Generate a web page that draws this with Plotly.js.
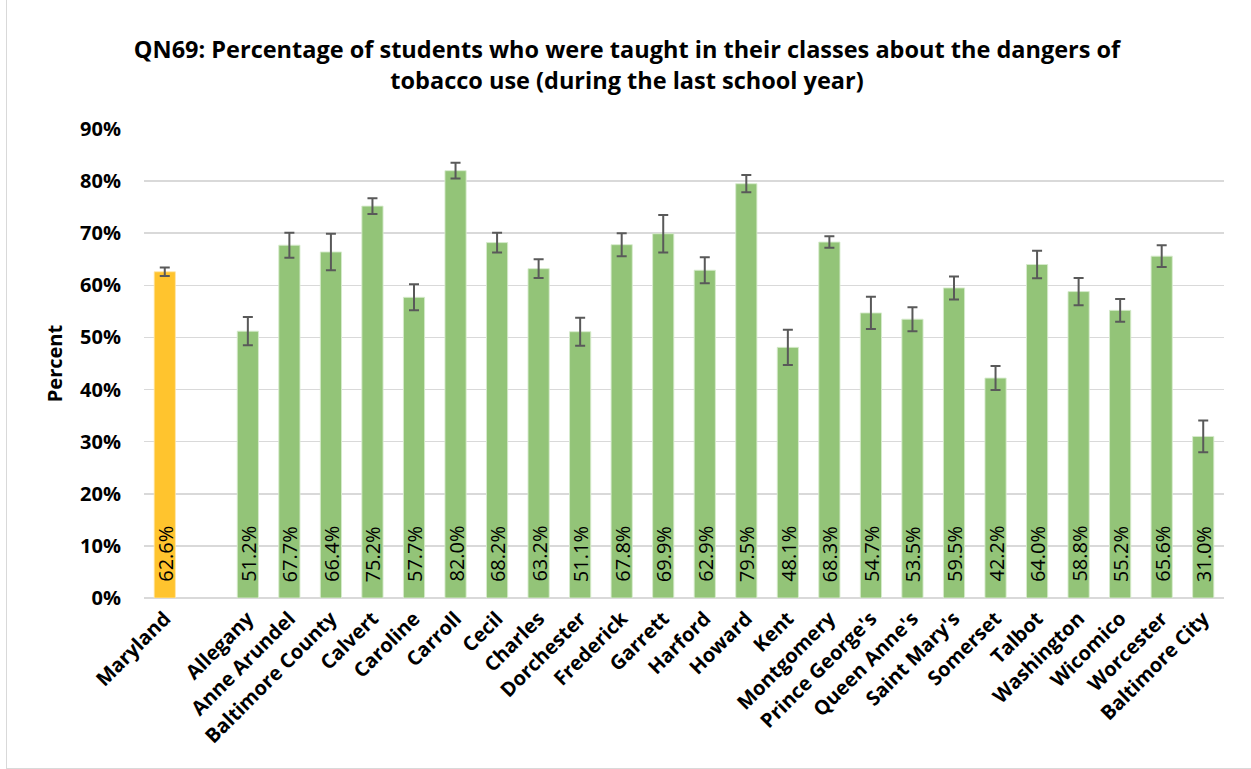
<!DOCTYPE html>
<html>
<head>
<meta charset="utf-8">
<script src="https://cdn.plot.ly/plotly-3.0.1.min.js"></script>
<style>
  html, body { margin: 0; padding: 0; background: #fff; overflow: hidden; }
  #frame { position: absolute; left: 6px; top: -5px; width: 1300px; height: 774px; border: 1px solid #d9d9d9; box-sizing: border-box; }
  #chart { position: absolute; left: 0; top: 0; width: 1251px; height: 769px; }
</style>
</head>
<body>
<div id="frame"></div>
<div id="chart"></div>
<script>
// ---- data ----
const stateName = ["Maryland"];
const stateValue = [62.6];
const stateError = [0.8];

const counties = ["Allegany", "Anne Arundel", "Baltimore County", "Calvert", "Caroline", "Carroll",
  "Cecil", "Charles", "Dorchester", "Frederick", "Garrett", "Harford", "Howard", "Kent",
  "Montgomery", "Prince George's", "Queen Anne's", "Saint Mary's", "Somerset", "Talbot",
  "Washington", "Wicomico", "Worcester", "Baltimore City"];
const countyValues = [51.2, 67.7, 66.4, 75.2, 57.7, 82.0, 68.2, 63.2, 51.1, 67.8, 69.9, 62.9,
  79.5, 48.1, 68.3, 54.7, 53.5, 59.5, 42.2, 64.0, 58.8, 55.2, 65.6, 31.0];
const countyErrors = [2.7, 2.4, 3.5, 1.5, 2.5, 1.5, 1.9, 1.8, 2.7, 2.2, 3.6, 2.5,
  1.65, 3.4, 1.1, 3.1, 2.3, 2.2, 2.3, 2.65, 2.6, 2.2, 2.1, 3.05];

const spacer = " ";
const categoryOrder = stateName.concat([spacer], counties);
const yTickValues = [0, 10, 20, 30, 40, 50, 60, 70, 80, 90];

const titleText = "QN69: Percentage of students who were taught in their classes about the dangers of<br>tobacco use (during the last school year)";

// ---- chart ----
const FONT = "Open Sans, Liberation Sans, sans-serif";
const fmt = v => v.toFixed(1) + "%";
const errStyle = { type: "data", visible: true, color: "#595959", thickness: 2, width: 5 };

const stateTrace = {
  type: "bar",
  x: stateName,
  y: stateValue,
  marker: { color: "rgb(255,196,46)", line: { color: "rgba(255,230,170,0.8)", width: 1 } },
  error_y: Object.assign({ array: stateError }, errStyle),
  hoverinfo: "x+y"
};

const countyTrace = {
  type: "bar",
  x: counties,
  y: countyValues,
  marker: { color: "rgb(147,196,120)", line: { color: "rgba(215,235,205,0.9)", width: 1 } },
  error_y: Object.assign({ array: countyErrors }, errStyle),
  hoverinfo: "x+y"
};

// value labels inside bars, anchored at the bar base
const allNames = stateName.concat(counties);
const allValues = stateValue.concat(countyValues);
const labelAnnotations = allNames.map((name, i) => ({
  xref: "x", yref: "y",
  x: name, y: 0,
  text: fmt(allValues[i]),
  textangle: -90,
  showarrow: false,
  xanchor: "center",
  yanchor: "bottom",
  yshift: 14,
  font: { family: FONT, size: 20, color: "#000" }
}));

const layout = {
  width: 1251,
  height: 769,
  paper_bgcolor: "rgba(0,0,0,0)",
  plot_bgcolor: "rgba(0,0,0,0)",
  margin: { l: 144, r: 27, t: 129, b: 171 },
  showlegend: false,
  barmode: "overlay",
  bargap: 0.49,
  font: { family: FONT, color: "#000" },
  title: {
    text: titleText,
    x: 627 / 1251,
    xanchor: "center",
    y: 1 - 58 / 769,
    yanchor: "middle",
    font: { family: FONT, size: 23.5, color: "#000", weight: "bold" }
  },
  xaxis: {
    type: "category",
    categoryorder: "array",
    categoryarray: categoryOrder,
    tickangle: -45,
    tickfont: { family: FONT, size: 20, color: "#000", weight: "bold" },
    showgrid: false,
    showline: false,
    ticks: "",
    ticklabelstandoff: 4,
    fixedrange: true
  },
  yaxis: {
    range: [0, 90],
    tickvals: yTickValues,
    ticktext: yTickValues.map(v => v + "%"),
    tickfont: { family: FONT, size: 20, color: "#000", weight: "bold" },
    ticklabelstandoff: 22,
    showgrid: true,
    gridcolor: "#d9d9d9",
    gridwidth: 1.5,
    zeroline: true,
    zerolinecolor: "#d9d9d9",
    zerolinewidth: 1.5,
    showline: false,
    ticks: "",
    automargin: false,
    title: {
      text: "Percent",
      standoff: 12,
      font: { family: FONT, size: 20, color: "#000", weight: "bold" }
    },
    fixedrange: true
  },
  annotations: labelAnnotations
};

Plotly.newPlot("chart", [stateTrace, countyTrace], layout, { displayModeBar: false, staticPlot: true });
</script>
</body>
</html>
